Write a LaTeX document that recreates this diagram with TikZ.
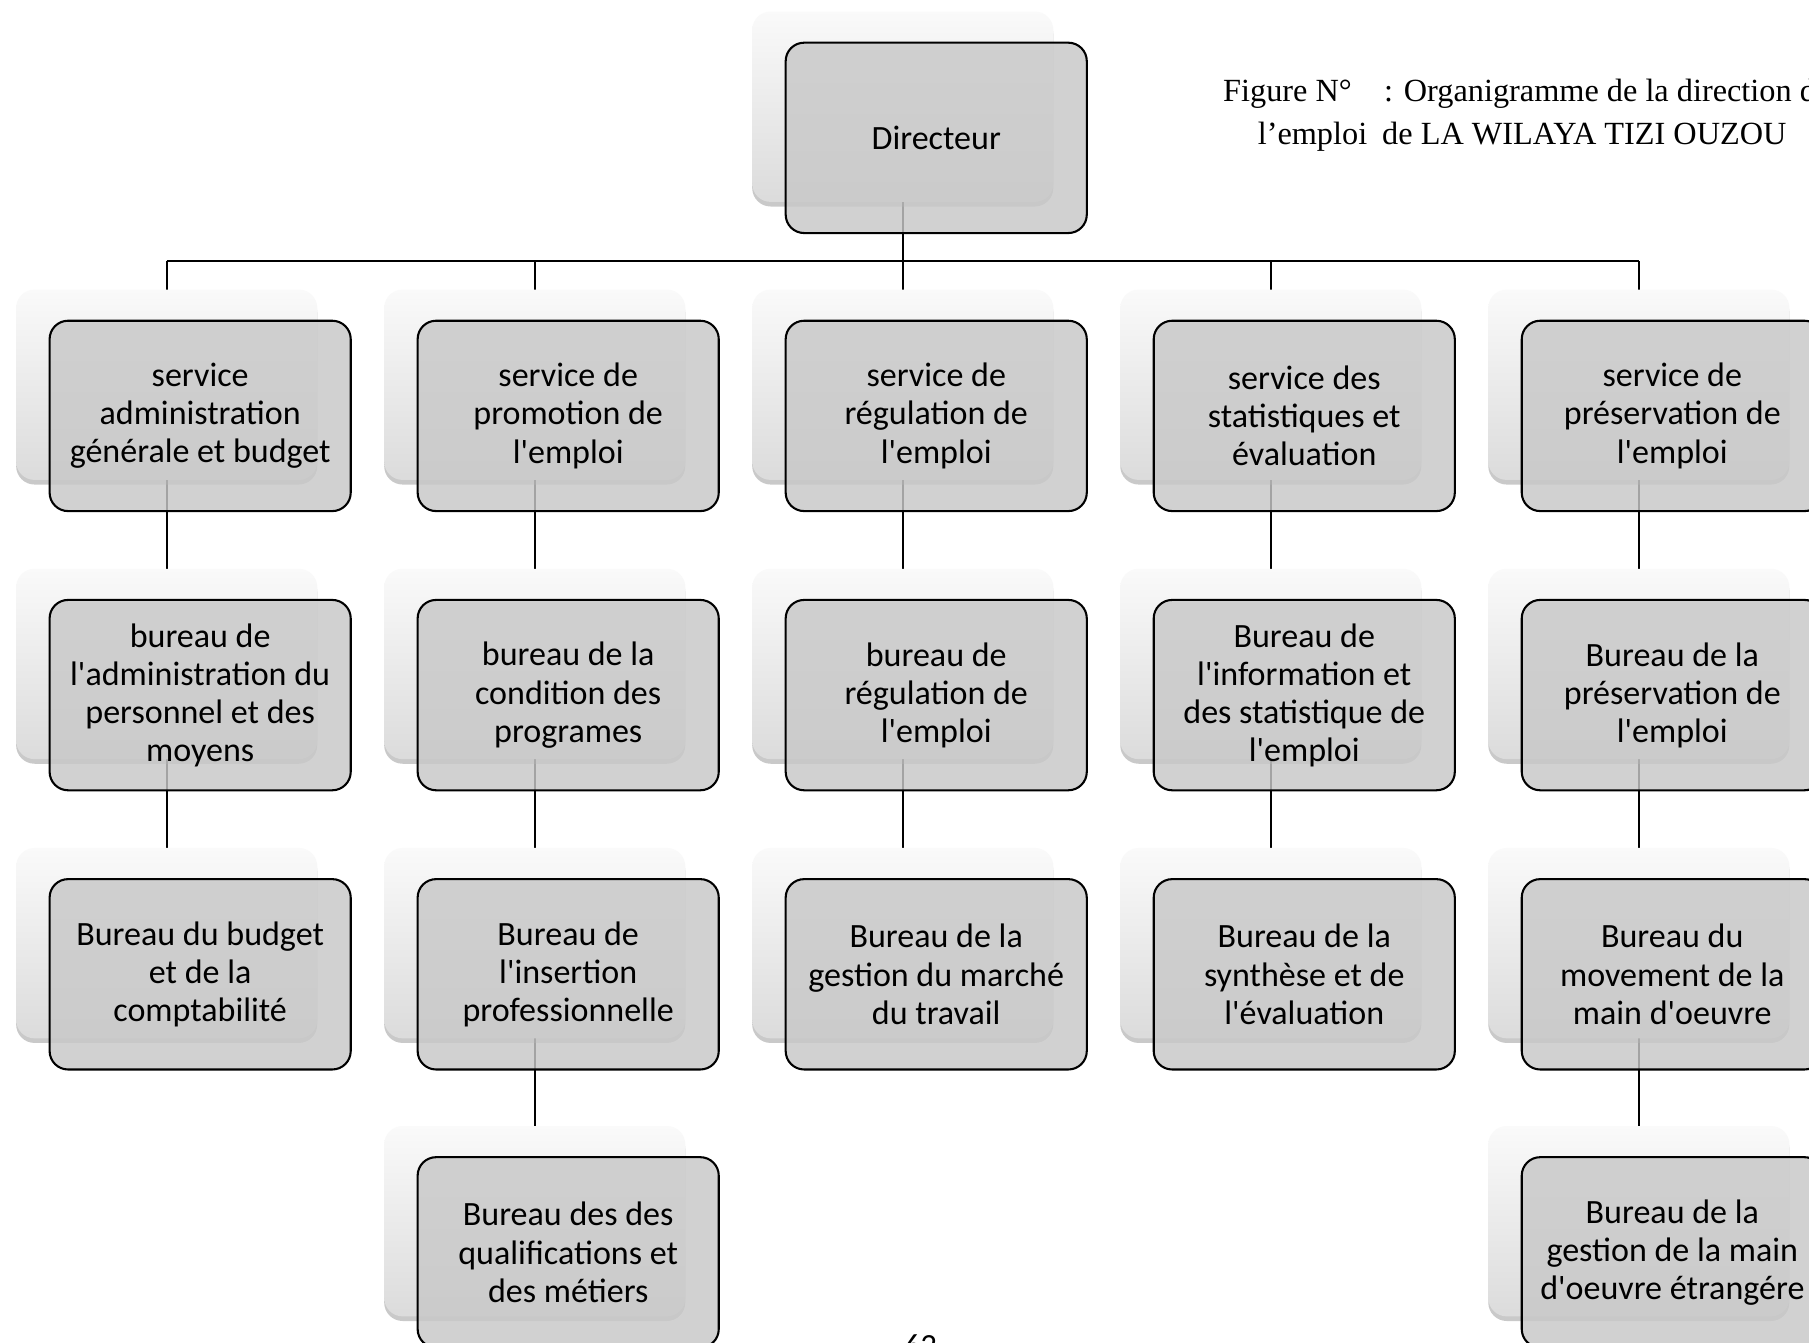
\documentclass[tikz,border=0pt]{standalone}
\usepackage{fontspec}
\newfontfamily\calib{Carlito}
\newfontfamily\tnr{Liberation Serif}
\usetikzlibrary{shadows,calc}
\pgfdeclarelayer{paper}
\pgfdeclarelayer{back}
\pgfsetlayers{paper,back,main}
\definecolor{boxgray}{RGB}{200,200,200}
\tikzset{
  shbox/.style={rectangle, rounded corners=16pt, minimum width=261pt, minimum height=165pt,
    inner sep=0pt, outer sep=0pt, draw=none, top color=black!2, bottom color=black!14,
    drop shadow={shadow xshift=0pt, shadow yshift=-4pt, opacity=0.35, fill=black!60}},
  mbox/.style={rectangle, rounded corners=16pt, minimum width=261pt, minimum height=165pt,
    inner sep=0pt, outer sep=0pt, draw=black, line width=1.8pt, fill=boxgray, fill opacity=0.82,
    text opacity=1, align=center, font=\calib\fontsize{29.5}{33}\selectfont},
  conn/.style={draw=black, line width=1.4pt},
  bus/.style={draw=black, line width=2pt},
  caption/.style={font=\tnr\fontsize{28}{36}\selectfont, anchor=base west, inner sep=0pt}
}
\newcommand\orgbox[4]{%
  \node[shbox] (#1S) at (#2,-#3) {};
  \node[mbox] (#1) at ($(#1S.center)+(29,-27)$) {#4};
}
\begin{document}
\begin{tikzpicture}[x=1pt,y=1pt]
\useasboundingbox (0,0) rectangle (1568,-1164);
\clip (0,0) rectangle (1568,-1164);
\begin{pgfonlayer}{paper}
  \fill[white] (0,0) rectangle (1568,-1164);
\end{pgfonlayer}
% Directeur
\orgbox{dir}{782.5}{92.5}{Directeur}
% row 1
\orgbox{a1}{144.5}{333.5}{service\\administration\\générale et budget}
\orgbox{b1}{463.5}{333.5}{service de\\promotion de\\l'emploi}
\orgbox{c1}{782.5}{333.5}{service de\\régulation de\\l'emploi}
\orgbox{d1}{1101.5}{333.5}{service des\\statistiques et\\évaluation}
\orgbox{e1}{1420.5}{333.5}{service de\\préservation de\\l'emploi}
% row 2
\orgbox{a2}{144.5}{575.5}{bureau de\\l'administration du\\personnel et des\\moyens}
\orgbox{b2}{463.5}{575.5}{bureau de la\\condition des\\programes}
\orgbox{c2}{782.5}{575.5}{bureau de\\régulation de\\l'emploi}
\orgbox{d2}{1101.5}{575.5}{Bureau de\\l'information et\\des statistique de\\l'emploi}
\orgbox{e2}{1420.5}{575.5}{Bureau de la\\préservation de\\l'emploi}
% row 3
\orgbox{a3}{144.5}{817.5}{Bureau du budget\\et de la\\comptabilité}
\orgbox{b3}{463.5}{817.5}{Bureau de\\l'insertion\\professionnelle}
\orgbox{c3}{782.5}{817.5}{Bureau de la\\gestion du marché\\du travail}
\orgbox{d3}{1101.5}{817.5}{Bureau de la\\synthèse et de\\l'évaluation}
\orgbox{e3}{1420.5}{817.5}{Bureau du\\movement de la\\main d'oeuvre}
% row 4
\orgbox{b4}{463.5}{1058.5}{Bureau des des\\qualifications et\\des métiers}
\orgbox{e4}{1420.5}{1058.5}{Bureau de la\\gestion de la main\\d'oeuvre étrangére}
% connectors
\coordinate (busC) at (782.5,-226);
\begin{pgfonlayer}{back}
  \draw[conn] (dirS.south) -- (c1S.north);
  \draw[bus] (a1S.north |- busC) -- (e1S.north |- busC);
  \draw[conn] (a1S.north) -- (a1S.north |- busC);
  \draw[conn] (b1S.north) -- (b1S.north |- busC);
  \draw[conn] (d1S.north) -- (d1S.north |- busC);
  \draw[conn] (e1S.north) -- (e1S.north |- busC);
  \draw[conn] (a1S.south) -- (a2S.north);
  \draw[conn] (a2S.south) -- (a3S.north);
  \draw[conn] (b1S.south) -- (b2S.north);
  \draw[conn] (b2S.south) -- (b3S.north);
  \draw[conn] (b3S.south) -- (b4S.north);
  \draw[conn] (c1S.south) -- (c2S.north);
  \draw[conn] (c2S.south) -- (c3S.north);
  \draw[conn] (d1S.south) -- (d2S.north);
  \draw[conn] (d2S.south) -- (d3S.north);
  \draw[conn] (e1S.south) -- (e2S.north);
  \draw[conn] (e2S.south) -- (e3S.north);
  \draw[conn] (e3S.south) -- (e4S.north);
\end{pgfonlayer}
% caption
\node[caption] (cap1) at (1060,-88) {Figure N°\hspace{28pt}: Organigramme de la direction de};
\node[caption] (cap2) at (1090,-125) {l’emploi\hspace{13pt}de LA WILAYA TIZI OUZOU};
\node[font=\calib\fontsize{28}{30}\selectfont, anchor=base, inner sep=0pt] (page) at (798,-1176) {62};
\end{tikzpicture}
\end{document}
